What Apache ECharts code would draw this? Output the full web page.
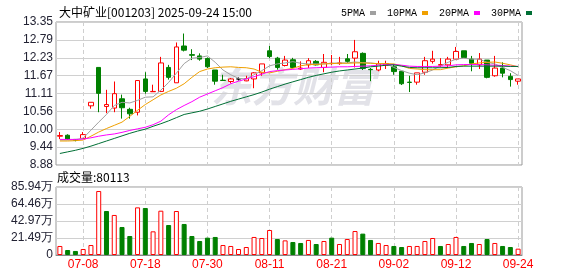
<!DOCTYPE html>
<html><head><meta charset="utf-8">
<script src="https://cdn.jsdelivr.net/npm/echarts@6/dist/echarts.min.js"></script>
<style>html,body{margin:0;padding:0;background:#fff}#c{width:578px;height:276px}</style>
</head><body><div id="c"></div>
<script>
const titleText = '大中矿业[001203] 2025-09-24 15:00';
const volumeTitle = '成交量:80113';
const dates = ['07-03','07-04','07-07','07-08','07-09','07-10','07-11','07-14','07-15','07-16',
'07-17','07-18','07-21','07-22','07-23','07-24','07-25','07-28','07-29','07-30',
'07-31','08-01','08-04','08-05','08-06','08-07','08-08','08-11','08-12','08-13',
'08-14','08-15','08-18','08-19','08-20','08-21','08-22','08-25','08-26','08-27',
'08-28','08-29','09-01','09-02','09-03','09-04','09-05','09-08','09-09','09-10',
'09-11','09-12','09-15','09-16','09-17','09-18','09-19','09-22','09-23','09-24'];
const opens = [9.78,9.81,9.68,9.71,10.73,11.93,10.71,10.66,10.95,10.62,
10.53,11.57,11.17,11.18,11.93,11.45,12.60,12.33,12.29,12.21,
11.85,11.53,11.49,11.57,11.51,11.57,11.76,12.45,12.22,11.99,
12.17,11.88,12.01,12.12,11.93,12.05,12.05,12.20,12.22,12.37,
11.87,11.85,12.00,11.95,11.81,11.47,11.47,11.78,12.12,12.00,
12.01,12.19,12.45,12.19,12.01,12.16,11.67,11.91,11.65,11.50];
const closes = [9.80,9.69,9.65,9.83,10.84,11.12,10.77,11.11,10.67,10.48,
11.52,11.18,11.18,12.07,11.62,12.57,12.47,12.31,12.19,11.95,
11.50,11.52,11.57,11.57,11.58,11.76,12.04,12.27,11.93,12.16,
11.93,11.91,12.14,12.01,12.09,12.06,12.07,12.12,12.42,11.90,
11.86,12.04,12.05,11.80,11.42,11.46,11.76,12.14,12.19,12.02,
12.19,12.43,12.24,12.06,12.19,11.62,11.91,11.75,11.55,11.57];
const lows = [9.69,9.66,9.62,9.70,10.64,10.53,10.50,10.53,10.33,10.33,
10.43,11.11,11.17,11.16,11.55,11.45,12.43,12.16,12.14,11.91,
11.39,11.52,11.43,11.52,11.50,11.28,11.67,12.22,11.86,11.96,
11.90,11.85,11.91,11.99,11.78,12.01,12.01,12.07,11.93,11.85,
11.50,11.81,11.88,11.70,11.38,11.16,11.39,11.70,12.05,11.93,
11.93,12.16,12.24,11.81,11.88,11.59,11.64,11.62,11.33,11.39];
const highs = [9.91,9.84,9.69,9.91,10.84,11.93,11.23,11.49,11.08,10.67,
11.52,11.78,11.39,12.26,12.01,12.71,12.99,12.50,12.37,12.24,
11.85,11.70,11.60,11.62,11.67,11.78,12.04,12.60,12.26,12.29,
12.23,12.12,12.22,12.16,12.35,12.32,12.26,12.35,12.79,12.40,
11.91,12.14,12.14,12.04,11.81,11.67,11.76,12.26,12.45,12.22,
12.26,12.57,12.45,12.29,12.38,12.16,12.29,12.09,11.75,11.57];
// volume in 万
const volumes = [11.4,6.3,5.1,7.6,12.6,80.9,55.6,50.6,35.4,24.0,
60.2,59.4,29.9,56.0,37.9,55.6,39.2,24.0,17.7,21.9,
22.8,12.6,11.4,7.6,10.1,22.8,21.5,31.6,20.2,18.5,
16.4,15.2,19.0,13.9,17.7,21.9,13.9,20.2,30.3,27.0,
19.0,15.2,12.6,11.4,10.1,11.4,11.4,17.7,21.5,11.4,
13.9,22.8,11.4,15.2,13.9,20.2,15.2,11.4,10.1,8.0113];
const ma5 = [9.66,9.66,9.67,9.72,9.97,10.22,10.46,10.74,10.84,10.82,
10.90,11.00,11.01,11.22,11.46,11.75,12.05,12.22,12.24,12.29,
12.09,11.85,11.70,11.59,11.57,11.70,11.83,11.98,12.04,12.07,
12.11,12.06,12.04,12.04,12.04,12.06,12.07,12.07,12.10,12.08,
12.07,12.04,12.05,11.93,11.83,11.75,11.70,11.76,11.85,11.98,
12.09,12.19,12.22,12.19,12.19,12.09,12.04,11.93,11.83,11.68];
const ma10 = [9.63,9.63,9.64,9.66,9.78,9.91,10.02,10.12,10.22,10.40,
10.59,10.77,10.92,11.07,11.18,11.28,11.42,11.62,11.80,11.88,
11.92,11.94,11.95,11.93,11.92,11.88,11.78,11.76,11.81,11.86,
11.90,11.98,12.02,12.02,12.04,12.05,12.06,12.06,12.07,12.07,
12.06,12.05,12.05,12.04,11.98,11.90,11.88,11.86,11.86,11.86,
11.91,11.95,11.98,12.04,12.07,12.09,12.10,12.06,12.01,11.95];
const ma20 = [9.68,9.68,9.68,9.69,9.73,9.78,9.82,9.85,9.90,9.96,
10.01,10.06,10.14,10.25,10.45,10.61,10.74,10.86,11.00,11.10,
11.20,11.30,11.42,11.50,11.57,11.64,11.72,11.80,11.83,11.85,
11.87,11.89,11.91,11.92,11.93,11.94,11.95,11.95,11.96,11.97,
11.98,12.00,12.02,12.02,12.00,11.97,11.96,11.96,11.96,11.97,
11.98,12.01,12.02,12.02,12.02,12.01,12.00,11.99,11.97,11.96];
const ma30 = [9.24,9.29,9.34,9.40,9.47,9.55,9.63,9.71,9.79,9.87,
9.94,10.00,10.09,10.17,10.26,10.36,10.46,10.51,10.56,10.63,
10.71,10.79,10.87,10.94,11.01,11.08,11.16,11.25,11.33,11.41,
11.48,11.55,11.62,11.68,11.73,11.78,11.82,11.85,11.88,11.91,
11.95,11.97,12.00,12.01,11.97,11.93,11.92,11.92,11.92,11.92,
11.93,11.96,11.97,11.97,11.97,11.97,11.97,11.97,11.96,11.96];
const maNames = ['5PMA','10PMA','20PMA','30PMA'];
const maColors = ['#a0a0a0','#f0a000','#ff00ff','#006f35'];
const priceTicks = ['8.88','9.44','10.00','10.56','11.11','11.67','12.23','12.79','13.35'];
const volumeTicks = ['0','21.49万','42.97万','64.46万','85.94万'];

const UP = '#ff0000', DOWN = '#008000';
const pMin = 8.88, pMax = 13.35, pInt = (pMax - pMin) / 8;
const vMax = 85.94, vInt = vMax / 4;
const labelInterval = function (i) { return (i - 3) % 8 === 0; };
const ohlc = dates.map(function (d, i) { return [opens[i], closes[i], lows[i], highs[i]]; });
const volData = volumes.map(function (v, i) {
  const up = i === 0 || closes[i] >= closes[i - 1];
  return { value: v, itemStyle: up ? { color: '#fff', borderColor: UP, borderWidth: 1 } : { color: DOWN, borderColor: DOWN, borderWidth: 1 } };
});
const maData = [ma5, ma10, ma20, ma30];
const AXF = '"Liberation Sans", Arial, sans-serif';

const chart = echarts.init(document.getElementById('c'), null, { renderer: 'canvas' });
const splitX = { show: true, interval: labelInterval, alignWithLabel: true, lineStyle: { color: '#cfcfcf', type: [4, 3], width: 1 } };
const option = {
  animation: false,
  backgroundColor: '#fff',
  title: { text: titleText, left: 54, top: 1, textStyle: { fontSize: 12, fontWeight: 'normal', color: '#000', fontFamily: '"Noto Sans CJK SC", sans-serif' } },
  legend: { left: 336, top: 3, align: 'right', icon: 'rect', itemWidth: 6, itemHeight: 4, itemGap: 11,
    textStyle: { fontSize: 10, fontFamily: '"Liberation Mono", monospace', color: '#000', padding: [0, 0, 0, 0] }, data: maNames },
  graphic: [
    { type: 'text', left: 211, top: 66, z: 0, silent: true,
      style: { text: '东方财富', fontSize: 41, fontWeight: 'bold', fontStyle: 'italic', fill: '#e2e2e8', fontFamily: '"Noto Sans CJK SC", sans-serif' } },
    { type: 'text', left: 57, top: 171, z: 10,
      style: { text: volumeTitle, fontSize: 12, fill: '#000', fontFamily: '"Noto Sans CJK SC", sans-serif' } }
  ],
  grid: [
    { left: 56, right: 56, top: 22, height: 143, show: true, borderColor: '#999', borderWidth: 1 },
    { left: 56, right: 56, top: 187, height: 68, show: true, borderColor: '#999', borderWidth: 1 }
  ],
  xAxis: [
    { type: 'category', gridIndex: 0, data: dates, boundaryGap: true,
      axisLine: { show: false }, axisTick: { show: false }, axisLabel: { show: false }, splitLine: splitX },
    { type: 'category', gridIndex: 1, data: dates, boundaryGap: true,
      axisLine: { show: true, lineStyle: { color: '#888' } }, axisTick: { show: false },
      axisLabel: { show: true, interval: labelInterval, color: '#ff0000', fontSize: 12, margin: 4, fontFamily: AXF },
      splitLine: splitX }
  ],
  yAxis: [
    { type: 'value', gridIndex: 0, min: pMin, max: pMax, interval: pInt, scale: true,
      axisLine: { show: false }, axisTick: { show: false },
      axisLabel: { color: '#222233', fontSize: 12, margin: 3, fontFamily: AXF,
        formatter: function (v) { return priceTicks[Math.round((v - pMin) / pInt)] || ''; } },
      splitLine: { show: true, lineStyle: { color: '#d0d0d0', width: 1 } } },
    { type: 'value', gridIndex: 1, min: 0, max: vMax, interval: vInt,
      axisLine: { show: false }, axisTick: { show: false },
      axisLabel: { color: '#222233', fontSize: 12, margin: 3, fontFamily: AXF,
        formatter: function (v) { return volumeTicks[Math.round(v / vInt)] || ''; } },
      splitLine: { show: true, lineStyle: { color: '#d0d0d0', width: 1 } } }
  ],
  series: [
    { type: 'candlestick', name: 'K', xAxisIndex: 0, yAxisIndex: 0, data: ohlc, barWidth: 5,
      itemStyle: { color: '#fff', color0: DOWN, borderColor: UP, borderColor0: DOWN, borderColorDoji: '#000', borderWidth: 1 } }
  ].concat(maNames.map(function (n, k) {
    return { type: 'line', name: n, xAxisIndex: 0, yAxisIndex: 0, data: maData[k], showSymbol: false, symbol: 'none',
      color: maColors[k], lineStyle: { color: maColors[k], width: 1 }, z: 3 };
  })).concat([
    { type: 'bar', name: 'VOL', xAxisIndex: 1, yAxisIndex: 1, data: volData, barWidth: 5 }
  ])
};
chart.setOption(option);
</script></body></html>
